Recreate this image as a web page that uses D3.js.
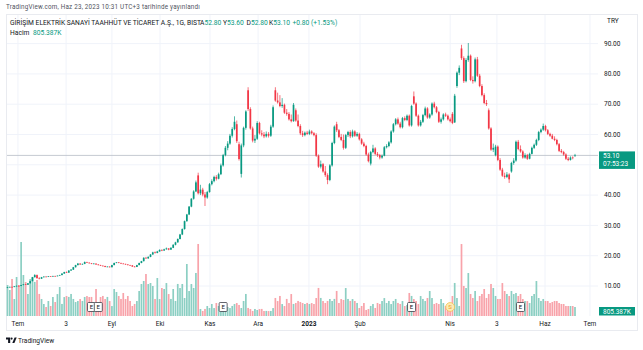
<!DOCTYPE html>
<html>
<head>
<meta charset="utf-8">
<script src="https://cdn.jsdelivr.net/npm/d3@7"></script>
<style>
  html, body { margin: 0; padding: 0; background: #ffffff; }
  svg { display: block; font-family: Roboto, "Open Sans", "DejaVu Sans", sans-serif; }
</style>
</head>
<body>
<svg id="chart" width="643" height="350"></svg>
<script>
// Daily OHLC for GİRİŞİM ELEKTRİK (BIST), late June 2022 → 23 June 2023
const opens = [
  9.40,9.55,9.70,9.65,9.90,10.05,10.00,10.30,10.55,10.40,
  10.90,11.60,12.90,13.60,12.60,12.40,12.90,13.10,13.00,13.20,
  13.15,13.30,13.25,13.40,13.60,14.10,14.60,14.40,15.10,15.40,
  16.20,16.90,17.40,17.10,17.30,17.90,17.70,17.50,17.30,17.40,
  17.10,16.90,16.70,16.60,16.30,16.40,16.20,16.90,17.60,17.80,
  17.60,17.40,17.30,17.10,16.90,16.80,16.40,16.30,16.90,17.60,
  18.20,19.30,19.10,19.60,20.40,21.10,20.90,21.40,21.90,21.70,
  22.10,22.40,22.00,22.60,23.60,24.40,25.50,27.00,28.80,31.40,
  33.60,36.20,38.80,41.20,46.50,40.60,41.80,40.20,39.20,41.00,
  43.60,44.60,46.00,45.40,46.90,49.80,53.20,55.60,57.00,59.60,
  61.80,63.40,56.80,47.00,56.40,62.20,74.60,68.40,62.00,58.00,
  58.60,63.80,60.40,60.00,59.40,60.20,59.60,62.60,74.60,71.20,
  70.60,69.40,69.80,67.20,66.80,65.00,64.40,68.00,64.60,62.80,
  60.40,59.80,60.60,60.20,61.00,60.40,59.80,53.00,49.40,50.20,
  47.80,46.60,45.00,49.80,57.20,63.40,61.40,59.20,58.20,55.60,
  59.80,60.80,59.40,61.00,59.60,60.20,58.40,57.00,56.20,53.40,
  50.40,54.20,55.40,53.60,53.20,52.40,53.00,55.80,56.20,57.40,
  61.00,63.40,65.00,63.60,62.40,65.40,64.80,66.20,63.00,72.60,
  70.20,66.20,63.00,64.20,66.40,68.60,65.60,66.60,70.20,69.00,
  67.40,64.20,65.00,66.60,66.20,65.00,66.80,64.00,76.00,80.40,
  88.40,85.20,77.60,84.60,86.00,78.00,77.60,84.80,79.40,76.00,
  73.00,70.40,68.00,62.00,55.00,53.20,56.00,51.60,48.40,46.40,
  46.00,46.80,47.80,50.60,51.40,57.60,55.20,54.40,52.40,53.20,
  52.00,53.60,55.60,56.60,58.20,60.80,61.60,62.80,61.40,60.20,
  59.60,58.60,58.20,56.80,54.60,54.20,53.40,52.00,51.60,52.40,
  52.80
];
const highs = [
  9.70,9.80,9.80,9.95,10.15,10.15,10.35,10.65,10.70,11.00,
  11.70,13.00,13.90,13.80,12.90,13.00,13.20,13.20,13.30,13.30,
  13.40,13.40,13.50,13.70,14.20,14.70,14.80,15.20,15.60,16.30,
  17.00,17.60,17.50,17.40,18.10,18.00,17.80,17.60,17.50,17.45,
  17.20,17.00,16.80,16.70,16.50,16.50,17.00,17.70,17.90,17.90,
  17.70,17.50,17.35,17.20,17.00,16.90,16.60,17.00,17.70,18.30,
  19.50,19.60,19.80,20.50,21.30,21.40,21.60,22.10,22.10,22.30,
  22.70,22.50,22.80,23.80,24.60,25.70,27.20,29.00,31.60,33.80,
  36.40,39.00,41.60,44.80,47.40,43.40,42.40,41.00,41.40,44.00,
  45.20,46.40,46.60,47.40,50.40,53.60,56.20,57.80,60.20,62.40,
  66.00,64.60,57.60,57.00,62.60,68.00,75.60,69.00,62.60,59.80,
  64.40,64.20,61.40,60.80,61.00,60.80,63.20,69.60,75.60,73.80,
  73.00,72.00,70.20,68.40,67.40,66.60,70.40,68.60,66.60,63.40,
  61.20,61.00,61.20,61.60,61.40,60.80,60.40,53.40,51.40,50.60,
  49.60,47.20,50.20,57.60,63.00,64.20,61.80,60.20,60.00,60.20,
  61.20,61.40,61.60,61.40,60.80,60.60,58.80,57.60,56.60,54.00,
  54.60,56.60,55.80,54.20,53.60,53.40,56.20,56.80,57.80,61.40,
  63.80,65.40,65.60,64.20,65.80,66.00,66.60,66.60,69.80,74.20,
  70.60,66.60,64.80,66.80,69.20,69.00,67.00,70.60,70.80,69.40,
  67.80,65.60,67.00,67.20,66.60,65.60,67.40,73.40,80.80,82.80,
  89.60,85.80,85.20,90.20,86.40,79.20,85.40,85.60,80.00,76.60,
  73.60,71.40,68.60,62.40,57.00,56.60,56.40,52.20,49.00,47.40,
  47.60,47.20,51.00,52.20,58.00,58.20,56.40,54.80,53.80,53.60,
  54.00,56.00,57.00,58.60,61.20,62.00,63.60,63.20,61.80,60.60,
  60.20,59.40,58.60,57.20,55.20,54.60,53.80,52.60,52.80,52.80,
  53.60
];
const lows = [
  9.30,9.50,9.55,9.60,9.85,9.90,9.95,10.25,10.35,10.35,
  10.85,11.55,12.80,12.40,12.20,12.35,12.80,12.90,12.95,13.05,
  13.10,13.15,13.20,13.35,13.55,14.00,14.30,14.35,15.00,15.30,
  16.10,16.80,17.00,17.00,17.20,17.60,17.40,17.20,17.20,17.00,
  16.80,16.60,16.50,16.20,16.20,16.10,16.15,16.85,17.50,17.50,
  17.30,17.20,17.00,16.80,16.70,16.30,16.20,16.25,16.85,17.50,
  18.10,19.00,19.00,19.50,20.30,20.70,20.80,21.30,21.50,21.60,
  22.00,21.80,21.90,22.50,23.40,24.30,25.40,26.80,28.60,31.20,
  33.40,36.00,38.50,41.00,40.20,40.00,39.60,36.40,38.80,40.80,
  43.20,44.20,44.80,45.20,46.60,49.40,52.80,54.80,56.60,59.00,
  61.40,57.20,51.40,45.80,55.80,61.60,67.80,61.60,57.40,57.20,
  58.20,60.00,59.40,58.80,59.00,59.00,59.20,62.20,70.80,70.20,
  69.00,68.80,66.80,66.20,64.60,64.00,64.20,64.20,62.40,59.80,
  59.20,59.40,59.80,59.80,60.00,59.40,52.60,49.00,48.80,47.40,
  46.00,43.60,44.60,49.40,56.80,60.80,58.80,57.80,55.00,55.20,
  59.20,58.80,59.00,59.20,59.20,58.00,56.60,55.80,53.00,50.80,
  49.80,53.80,53.20,52.60,51.80,52.00,52.80,55.40,55.80,57.00,
  60.60,63.00,63.20,62.00,62.00,64.40,64.40,62.60,62.60,69.80,
  65.80,62.60,62.60,63.80,66.00,65.20,65.20,66.20,68.60,67.00,
  63.80,63.60,64.60,65.80,64.60,64.00,63.40,63.80,75.40,79.60,
  84.60,77.00,77.20,84.00,77.60,76.80,77.20,79.00,75.60,72.60,
  70.00,69.40,61.60,54.60,54.20,52.80,51.20,48.00,46.00,45.40,
  45.60,44.00,47.40,50.00,51.00,54.80,54.00,52.00,52.00,51.60,
  51.80,53.40,55.20,56.20,57.80,60.40,61.20,61.00,59.80,59.20,
  58.40,57.80,56.40,54.20,53.80,53.00,51.60,51.20,51.40,51.80,
  52.80
];
const closes = [
  9.55,9.70,9.65,9.90,10.05,10.00,10.30,10.55,10.40,10.90,
  11.60,12.90,13.60,12.60,12.40,12.90,13.10,13.00,13.20,13.15,
  13.30,13.25,13.40,13.60,14.10,14.60,14.40,15.10,15.40,16.20,
  16.90,17.40,17.10,17.30,17.90,17.70,17.50,17.30,17.40,17.10,
  16.90,16.70,16.60,16.30,16.40,16.20,16.90,17.60,17.80,17.60,
  17.40,17.30,17.10,16.90,16.80,16.40,16.30,16.90,17.60,18.20,
  19.30,19.10,19.60,20.40,21.10,20.90,21.40,21.90,21.70,22.10,
  22.40,22.00,22.60,23.60,24.40,25.50,27.00,28.80,31.40,33.60,
  36.20,38.80,41.20,44.20,40.60,41.80,40.20,39.20,41.00,43.60,
  44.60,46.00,45.40,46.90,49.80,53.20,55.60,57.00,59.60,61.80,
  64.20,57.80,51.90,56.40,62.20,67.60,68.40,62.00,58.00,58.60,
  63.80,60.40,60.00,59.40,60.20,59.60,62.60,69.00,71.20,70.60,
  69.40,69.80,67.20,66.80,65.00,64.40,69.80,64.60,62.80,60.40,
  59.80,60.60,60.20,61.00,60.40,59.80,53.00,49.40,50.20,47.80,
  46.60,45.00,49.80,57.20,62.60,61.40,59.20,58.20,55.60,59.80,
  60.80,59.40,61.00,59.60,60.20,58.40,57.00,56.20,53.40,51.20,
  54.20,55.40,53.60,53.20,52.40,53.00,55.80,56.20,57.40,61.00,
  63.40,65.00,63.60,62.40,65.40,64.80,66.20,63.00,69.40,70.20,
  66.20,63.00,64.20,66.40,68.60,65.60,66.60,70.20,69.00,67.40,
  64.20,65.00,66.60,66.20,65.00,64.40,63.80,72.80,80.40,82.00,
  85.20,77.60,84.60,86.00,78.00,77.60,84.80,79.40,76.00,73.00,
  70.40,70.00,62.00,55.00,55.60,56.00,51.60,48.40,46.40,46.00,
  46.80,45.20,50.60,51.40,57.60,55.20,54.40,52.40,53.20,52.00,
  53.60,55.60,56.60,58.20,60.80,61.60,62.80,61.40,60.20,59.60,
  58.60,58.20,56.80,54.60,54.20,53.40,52.00,51.60,52.40,52.30,
  53.10
];
// Daily volume, thousands of shares
const volumes = [
  2774,2327,3312,1522,3491,2768,6623,3670,3043,1969,
  3305,3486,3050,3222,1975,1518,1074,806,1343,895,
  1701,1253,1962,2596,1080,1695,1790,1708,1971,1526,
  1249,1340,1517,1348,1703,1786,1697,1705,1071,2417,
  902,1699,1794,1520,1706,1339,890,2412,2148,1788,
  1525,2059,1519,1792,1345,898,1077,1341,2238,2864,
  3133,3759,2860,2954,2685,1524,3401,1516,2506,2420,
  2950,1966,1527,2415,1346,2868,2503,2866,1611,4654,
  2235,2862,2509,3849,6444,627,448,631,893,716,
  1076,712,1164,897,801,985,719,808,714,899,
  1070,1161,988,718,1344,1972,721,625,452,629,
  537,622,633,447,455,443,450,710,1614,1338,
  1793,1069,891,1528,1160,1965,1078,1167,1347,1256,
  1162,1073,1169,1076,1158,1072,1609,2511,1616,1339,
  1166,1345,1521,1342,1530,2241,1163,1518,1436,2502,
  1526,1349,1517,1340,1167,717,896,1161,540,624,
  899,1071,720,1166,1078,1341,1606,1163,1348,1070,
  1344,1524,1168,1077,1340,892,981,2061,1795,1519,
  1346,1072,1787,1526,1339,1613,2236,1608,1077,1165,
  1071,1523,1162,897,893,715,1791,2957,1610,898,
  6440,2688,2504,3846,1968,1612,2239,1342,1789,1971,
  2416,1613,1967,2866,2507,1793,1521,1525,2950,2236,
  1972,1788,2240,1966,2057,1791,1970,1520,1344,1341,
  1163,1792,1968,3130,1611,1345,1523,1342,1340,1166,
  1255,1344,1339,1163,1076,1072,897,893,896,894,
  805.387
];

// Price scale ticks and time-axis labels (positions in bar-index units)
const priceTicks = [10, 20, 30, 40, 50, 60, 70, 80, 90];
const timeLabels = ["Tem", "3", "Eyl", "Eki", "Kas", "Ara", "2023", "Şub", "Nis", "3", "Haz", "Tem"];
const timeTickIdx = [4.6, 25.8, 46, 67.2, 89.2, 110.4, 132.8, 155.3, 195, 215.6, 236.8, 256.6];
// Corporate events shown on the time line (E = earnings, S = split)
const earningsIdx = [37, 40, 95, 178, 226];
const splitIdx = [195];

const UP = "#089981", DOWN = "#f23645";
const UP_VOL = "#8ccfc3", DOWN_VOL = "#f8a3aa";
const TEXT = "#131722";

const svg = d3.select("#chart");
const n = closes.length;
const bars = d3.range(n).map(i => ({
  i, o: opens[i], h: highs[i], l: lows[i], c: closes[i], v: volumes[i]
}));

// Layout of the pane
const paneL = 6, paneR = 598, paneT = 14, paneB = 316, axisB = 330, frameR = 638;

const x = d3.scaleLinear().domain([0, n - 1]).range([7.5, 7.5 + (n - 1) * 2.27]);
const y = d3.scaleLinear().domain([0, 100]).range([316.3, 13.3]);
const yVol = d3.scaleLinear().domain([0, 7000]).range([316, 316 - 7000 * 9 / 805.387]);

// Frame
svg.append("rect").attr("x", paneL + 0.5).attr("y", paneT + 0.5)
  .attr("width", frameR - paneL - 1).attr("height", axisB - paneT)
  .attr("fill", "none").attr("stroke", "#e9ebf0").attr("stroke-width", 1);

// Grid
const grid = svg.append("g");
grid.selectAll("line.h").data(priceTicks).join("line")
  .attr("x1", paneL + 1).attr("x2", paneR)
  .attr("y1", d => y(d)).attr("y2", d => y(d))
  .attr("stroke", "#f0f3fa").attr("stroke-width", 1);
grid.selectAll("line.v").data(timeTickIdx).join("line")
  .attr("x1", d => x(d)).attr("x2", d => x(d))
  .attr("y1", paneT + 1).attr("y2", paneB)
  .attr("stroke", "#f0f3fa").attr("stroke-width", 1);

// Volume histogram
const bw = 1.7;
svg.append("g").selectAll("rect").data(bars).join("rect")
  .attr("x", d => x(d.i) - bw / 2)
  .attr("y", d => yVol(d.v))
  .attr("width", bw)
  .attr("height", d => yVol(0) - yVol(d.v))
  .attr("fill", d => d.c >= d.o ? UP_VOL : DOWN_VOL);

// Last price line
const last = bars[n - 1];
svg.append("line")
  .attr("x1", paneL + 1).attr("x2", paneR)
  .attr("y1", y(last.c)).attr("y2", y(last.c))
  .attr("stroke", "#b8bcc6").attr("stroke-width", 0.8);

// Candles
const cg = svg.append("g");
cg.selectAll("line").data(bars).join("line")
  .attr("x1", d => x(d.i)).attr("x2", d => x(d.i))
  .attr("y1", d => y(d.h)).attr("y2", d => y(d.l))
  .attr("stroke", d => d.c >= d.o ? UP : DOWN).attr("stroke-width", 0.7);
const cw = 1.7;
cg.selectAll("rect").data(bars).join("rect")
  .attr("x", d => x(d.i) - cw / 2)
  .attr("y", d => y(Math.max(d.o, d.c)))
  .attr("width", cw)
  .attr("height", d => Math.max(0.6, Math.abs(y(d.o) - y(d.c))))
  .attr("fill", d => d.c >= d.o ? UP : DOWN);

// Event badges
const ev = svg.append("g");
earningsIdx.forEach(i => {
  const g = ev.append("g").attr("transform", `translate(${x(i)},307)`);
  g.append("rect").attr("x", -4).attr("y", -4.5).attr("width", 8).attr("height", 9)
    .attr("rx", 1).attr("fill", "#fff").attr("stroke", "#3b3e48").attr("stroke-width", 0.8);
  g.append("text").attr("text-anchor", "middle").attr("dy", "0.35em")
    .attr("font-size", 6).attr("fill", TEXT).text("E");
});
splitIdx.forEach(i => {
  const g = ev.append("g").attr("transform", `translate(${x(i)},307)`);
  g.append("circle").attr("r", 4.4).attr("fill", "#fdebb7").attr("stroke", "#f4c24f").attr("stroke-width", 0.8);
  g.append("text").attr("text-anchor", "middle").attr("dy", "0.35em")
    .attr("font-size", 6).attr("fill", "#e8a21c").text("S");
});

// Price axis labels
const fmt = d3.format(".2f");
svg.append("g").selectAll("text").data(priceTicks.filter(t => Math.abs(y(t) - y(last.c)) > 10)).join("text")
  .attr("x", 604).attr("y", d => y(d)).attr("dy", "0.35em")
  .attr("font-size", 6.5).attr("fill", TEXT).text(d => fmt(d));
svg.append("text").attr("x", 607).attr("y", 21).attr("dy", "0.35em")
  .attr("font-size", 6.5).attr("fill", TEXT).text("TRY");

// Last price badge
const yl = y(last.c);
svg.append("rect").attr("x", 599).attr("y", yl - 4).attr("width", 36).attr("height", 17.5)
  .attr("fill", UP);
svg.append("text").attr("x", 603).attr("y", yl + 0.5).attr("dy", "0.35em")
  .attr("font-size", 6.5).attr("fill", "#fff").text(fmt(last.c));
svg.append("text").attr("x", 603).attr("y", yl + 8.5).attr("dy", "0.35em")
  .attr("font-size", 6.5).attr("fill", "#fff").text("07:53:23");

// Volume badge
const fmtK = v => d3.format(".3f")(v) + "K";
svg.append("rect").attr("x", 599).attr("y", 307).attr("width", 36).attr("height", 8.5).attr("fill", UP);
svg.append("text").attr("x", 603).attr("y", 311.3).attr("dy", "0.35em")
  .attr("font-size", 6.5).attr("fill", "#fff").text(fmtK(last.v));

// Time axis labels
svg.append("g").selectAll("text").data(timeLabels).join("text")
  .attr("x", (d, k) => x(timeTickIdx[k])).attr("y", 324).attr("dy", "0.35em")
  .attr("text-anchor", "middle").attr("font-size", 6.5)
  .attr("font-weight", d => d === "2023" ? 700 : 400)
  .attr("fill", TEXT).text(d => d);

// Stretch a text run to a given width by letter spacing
function fitWidth(sel, width) {
  const str = sel.text();
  const w = sel.node().getComputedTextLength();
  sel.attr("letter-spacing", Math.max(0, (width - w) / str.length));
}

// Header
const h1 = svg.append("text").attr("x", 6).attr("y", 7).attr("dy", "0.35em")
  .attr("font-size", 6.3).attr("fill", "#50535e")
  .text("TradingView.com, Haz 23, 2023 10:31 UTC+3 tarihinde yayınlandı");
fitWidth(h1, 194);

const title = svg.append("text").attr("x", 10).attr("y", 23).attr("dy", "0.35em")
  .attr("font-size", 6.7).attr("fill", TEXT)
  .text("GİRİŞİM ELEKTRİK SANAYİ TAAHHÜT VE TİCARET A.Ş., 1G, BIST");
fitWidth(title, 175);

const prev = bars[n - 2];
const chg = last.c - prev.c;
const sign = v => (v >= 0 ? "+" : "");
const legend = [
  { k: "A", v: fmt(last.o), x: 200 },
  { k: "Y", v: fmt(last.h), x: 223 },
  { k: "D", v: fmt(last.l), x: 246.5 },
  { k: "K", v: fmt(last.c), x: 269 },
  { k: "", v: `${sign(chg)}${fmt(chg)} (${sign(chg)}${fmt(chg / prev.c * 100)}%)`, x: 292.5 }
];
legend.forEach(d => {
  const t = svg.append("text").attr("x", d.x).attr("y", 23).attr("dy", "0.35em").attr("font-size", 6.7);
  if (d.k) t.append("tspan").attr("fill", TEXT).text(d.k);
  t.append("tspan").attr("fill", UP).text(d.v);
});

svg.append("text").attr("x", 10).attr("y", 33).attr("dy", "0.35em").attr("font-size", 6.7)
  .attr("fill", TEXT).text("Hacim");
svg.append("text").attr("x", 33).attr("y", 33).attr("dy", "0.35em").attr("font-size", 6.7)
  .attr("fill", UP).text(fmtK(last.v));

// TradingView footer mark
const logo = svg.append("g").attr("fill", TEXT);
logo.append("path").attr("d", "M6 337.5 h4.2 v5.5 h-2.1 v-3.4 h-2.1 z");
logo.append("circle").attr("cx", 11.6).attr("cy", 338.6).attr("r", 1.05);
logo.append("path").attr("d", "M12.3 343 l2.3 -5.5 h2.1 l-2.3 5.5 z");
svg.append("text").attr("x", 18).attr("y", 340.5).attr("dy", "0.35em")
  .attr("font-size", 6.6).attr("fill", TEXT).text("TradingView");
</script>
</body>
</html>
